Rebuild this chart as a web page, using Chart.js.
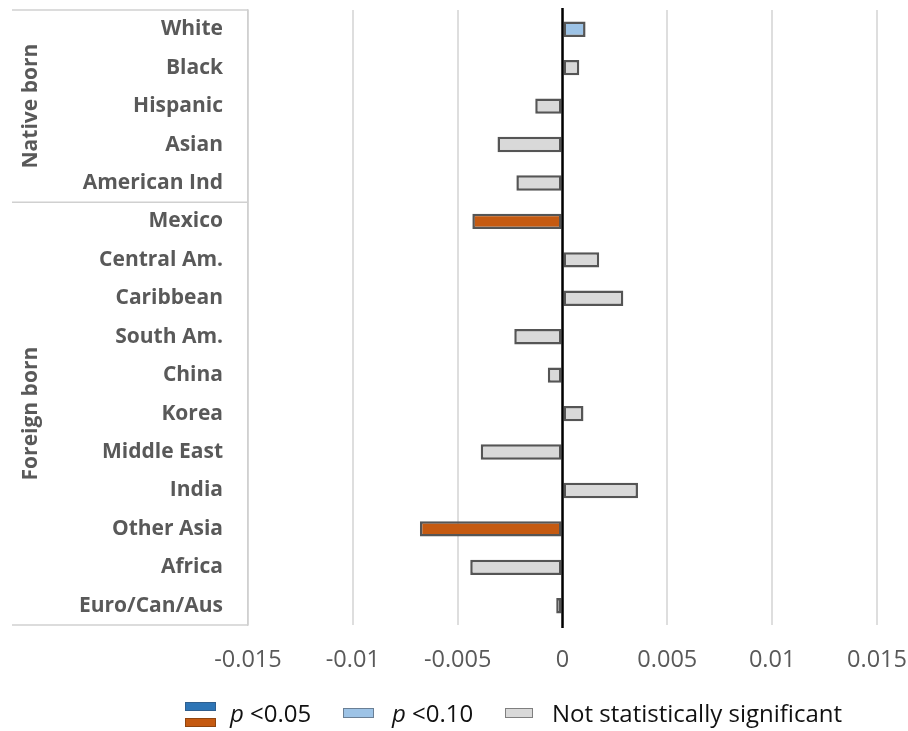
<!DOCTYPE html>
<html>
<head>
<meta charset="utf-8">
<script src="https://cdn.jsdelivr.net/npm/chart.js@4.4.1/dist/chart.umd.min.js"></script>
<style>
    body { margin: 0; background: #fff; }
    #wrap { position: relative; width: 908px; height: 731px; }
    .legend { position: absolute; font-family: 'Open Sans', sans-serif; font-size: 24px; color: #111; line-height: 28px; white-space: nowrap; }
    .sw { position: absolute; box-sizing: border-box; }
</style>
</head>
<body>
<div id="wrap">
    <canvas id="chart" width="908" height="731"></canvas>
    <div class="sw" style="left:185px;top:702px;width:31px;height:9px;background:#2e75b6;border:1px solid #2f5f8f;"></div>
    <div class="sw" style="left:185px;top:718px;width:31px;height:9px;background:#c55a11;border:1px solid #8f4510;"></div>
    <div class="legend" style="left:230px;top:699px;"><i>p</i> &lt;0.05</div>
    <div class="sw" style="left:343px;top:708px;width:31px;height:10px;background:#9dc3e6;border:1px solid #6a7f95;"></div>
    <div class="legend" style="left:392px;top:699px;"><i>p</i> &lt;0.10</div>
    <div class="sw" style="left:505px;top:708px;width:28px;height:10px;background:#d9d9d9;border:1px solid #7f7f7f;"></div>
    <div class="legend" style="left:552px;top:699px;">Not statistically significant</div>
</div>
<script>
// categories, top to bottom
const categories = ['White', 'Black', 'Hispanic', 'Asian', 'American Ind',
    'Mexico', 'Central Am.', 'Caribbean', 'South Am.', 'China', 'Korea',
    'Middle East', 'India', 'Other Asia', 'Africa', 'Euro/Can/Aus'];
const values = [0.0011, 0.0008, -0.0013, -0.0031, -0.0022,
    -0.0043, 0.00175, 0.0029, -0.0023, -0.0007, 0.001,
    -0.0039, 0.0036, -0.0068, -0.0044, -0.0003];
// significance of each estimate: 'p05', 'p10' or 'ns'
const significance = ['p10', 'ns', 'ns', 'ns', 'ns',
    'p05', 'ns', 'ns', 'ns', 'ns', 'ns',
    'ns', 'ns', 'p05', 'ns', 'ns'];
const groupNames = ['Native born', 'Foreign born'];
const groupSizes = [5, 11];
const xTicks = [-0.015, -0.01, -0.005, 0, 0.005, 0.01, 0.015];

function barColor(sig, v) {
    if (sig === 'p05') return v < 0 ? '#c55a11' : '#2e75b6';
    if (sig === 'p10') return '#9dc3e6';
    return '#d9d9d9';
}

// drop the label overflow padding so the plot area is set by layout.padding
function noPadding(scale) {
    scale.paddingTop = 0;
    scale.paddingBottom = 0;
    scale.paddingLeft = 0;
    scale.paddingRight = 0;
}

// group brackets on the left, plus the black zero line over the bars
const groupPlugin = {
    id: 'groups',
    afterDatasetsDraw(chart) {
        const ctx = chart.ctx;
        const area = chart.chartArea;
        const y = chart.scales.y;
        const x = chart.scales.x;

        const x0 = x.getPixelForValue(0);
        ctx.save();
        ctx.strokeStyle = '#000';
        ctx.lineWidth = 2.5;
        ctx.beginPath();
        ctx.moveTo(x0, area.top - 2);
        ctx.lineTo(x0, area.bottom + 3);
        ctx.stroke();

        // boundaries between the groups
        const edges = [area.top];
        let idx = 0;
        groupSizes.forEach(n => {
            idx += n;
            if (idx < categories.length) {
                edges.push((y.getPixelForValue(idx - 1) + y.getPixelForValue(idx)) / 2);
            } else {
                edges.push(area.bottom);
            }
        });

        ctx.strokeStyle = '#d0d0d0';
        ctx.lineWidth = 1.5;
        edges.forEach(e => {
            ctx.beginPath();
            ctx.moveTo(12, e);
            ctx.lineTo(area.left, e);
            ctx.stroke();
        });

        ctx.fillStyle = '#595959';
        ctx.font = 'bold 21px "Open Sans"';
        ctx.textAlign = 'center';
        ctx.textBaseline = 'middle';
        groupNames.forEach((name, g) => {
            const cy = (edges[g] + edges[g + 1]) / 2;
            ctx.save();
            ctx.translate(31, cy);
            ctx.rotate(-Math.PI / 2);
            ctx.fillText(name, 0, 0);
            ctx.restore();
        });
        ctx.restore();
    }
};

new Chart(document.getElementById('chart'), {
    type: 'bar',
    data: {
        labels: categories,
        datasets: [{
            data: values,
            backgroundColor: values.map((v, i) => barColor(significance[i], v)),
            borderColor: '#555555',
            borderWidth: 2.5,
            borderSkipped: false,
            categoryPercentage: 1,
            barPercentage: 0.4,
        }],
    },
    options: {
        indexAxis: 'y',
        responsive: false,
        animation: false,
        layout: { padding: { top: 10, right: 31, left: 0, bottom: 0 } },
        plugins: {
            legend: { display: false },
            tooltip: { enabled: false },
        },
        scales: {
            x: {
                min: -0.015,
                max: 0.015,
                afterBuildTicks: scale => {
                    scale.ticks = xTicks.map(v => ({ value: v }));
                },
                afterFit: scale => {
                    scale.height = 106;
                    noPadding(scale);
                },
                grid: { color: '#dedede', lineWidth: 2, drawTicks: false },
                border: { display: false },
                ticks: {
                    padding: 21,
                    color: '#595959',
                    font: { family: 'Open Sans', size: 23.5 },
                    callback: v => String(v),
                },
            },
            y: {
                afterFit: scale => {
                    scale.width = 248;
                    noPadding(scale);
                },
                grid: { display: false, drawTicks: false },
                border: { display: true, color: '#d0d0d0', width: 1.5 },
                ticks: {
                    padding: 25,
                    color: '#595959',
                    font: { family: 'Open Sans', size: 21, weight: 'bold' },
                },
            },
        },
    },
    plugins: [groupPlugin],
});
</script>
</body>
</html>
